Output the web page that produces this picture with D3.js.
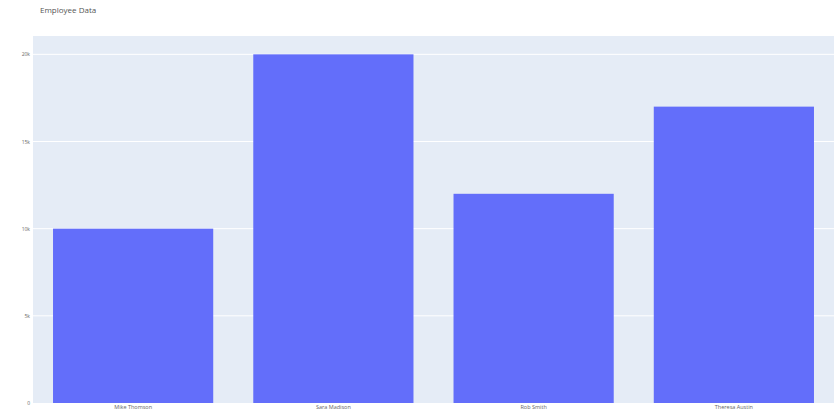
<!DOCTYPE html>
<html><head><meta charset="utf-8">
<script src="https://cdn.jsdelivr.net/npm/d3@7"></script>
<style>body{margin:0;background:#fff}svg{display:block}</style>
</head><body>
<svg id="c" width="836" height="411"></svg>
<script>
const employees = ["Mike Thomson", "Sara Madison", "Rob Smith", "Theresa Austin"];
const salaries = [10000, 20000, 12000, 17000];
const yTicks = [0, 5000, 10000, 15000, 20000];
const yTickLabels = ["0", "5k", "10k", "15k", "20k"];
const title = "Employee Data";

const W = 836, H = 411;
const m = {l: 33, r: 2, t: 36, b: 8};
const svg = d3.select("#c");
const font = "'Open Sans', 'Noto Sans', sans-serif";

const x = d3.scaleBand().domain(employees).range([m.l, W - m.r]).paddingInner(0.2).paddingOuter(0.1);
const y = d3.scaleLinear().domain([0, 20000 * 1.0526]).range([H - m.b, m.t]);

svg.append("rect").attr("x", m.l).attr("y", m.t)
  .attr("width", W - m.r - m.l).attr("height", H - m.b - m.t).attr("fill", "#e5ecf6");

const yAxis = d3.axisLeft(y).tickValues(yTicks).tickFormat((d, i) => yTickLabels[i]).tickSize(0).tickPadding(3);
const gy = svg.append("g").attr("transform", `translate(${m.l},0)`).call(yAxis);
gy.select(".domain").remove();
gy.selectAll("text").attr("font-family", font).attr("font-size", 5).attr("fill", "#666");
svg.append("g").selectAll("line").data(yTicks.filter(d => d > 0)).join("line")
  .attr("x1", m.l).attr("x2", W - m.r).attr("y1", d => y(d)).attr("y2", d => y(d))
  .attr("stroke", "#fff").attr("stroke-width", 1);

svg.append("g").selectAll("rect").data(employees).join("rect")
  .attr("x", d => x(d)).attr("width", x.bandwidth())
  .attr("y", (d, i) => y(salaries[i])).attr("height", (d, i) => y(0) - y(salaries[i]))
  .attr("fill", "#636efa");

const xAxis = d3.axisBottom(x).tickSize(0).tickPadding(2);
const gx = svg.append("g").attr("transform", `translate(0,${H - m.b})`).call(xAxis);
gx.select(".domain").remove();
gx.selectAll("text").attr("font-family", font).attr("font-size", 5.5).attr("fill", "#666");

svg.append("text").attr("x", 40).attr("y", 13).attr("font-family", font)
  .attr("font-size", 8).attr("fill", "#555").text(title);
</script>
</body></html>
